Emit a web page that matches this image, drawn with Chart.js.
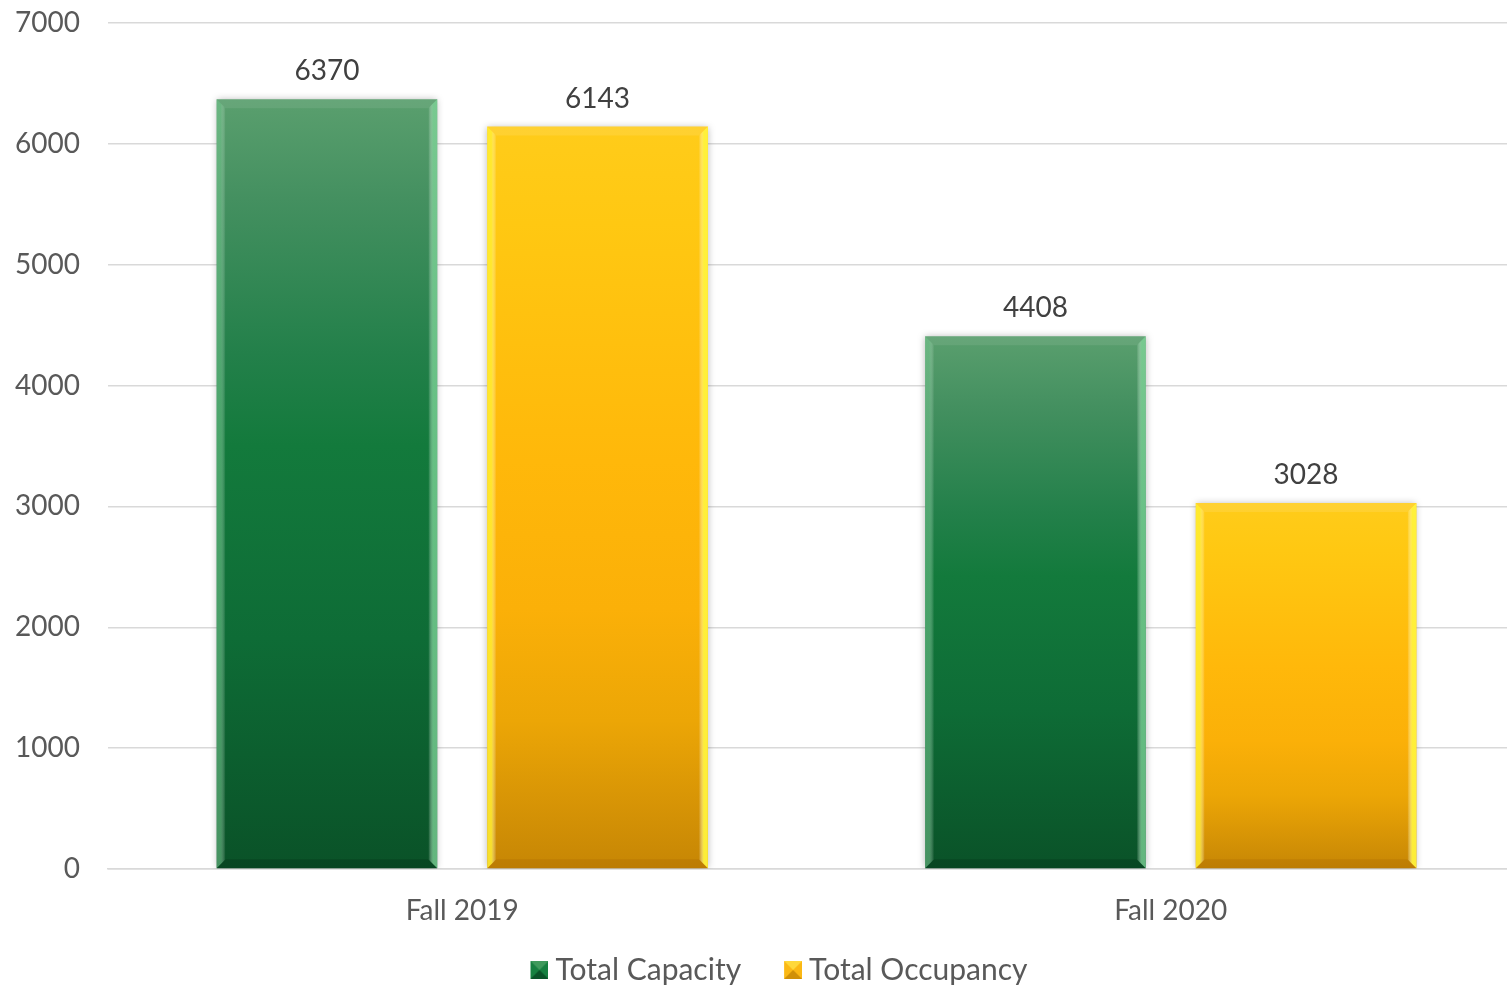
<!DOCTYPE html>
<html>
<head>
<meta charset="utf-8">
<script src="https://cdn.jsdelivr.net/npm/chart.js@4.4.1/dist/chart.umd.min.js"></script>
<style>
  html, body { margin: 0; padding: 0; background: #fff; overflow: hidden; }
  #wrap { width: 1564px; height: 995px; }
</style>
</head>
<body>
<div id="wrap"><canvas id="housingChart"></canvas></div>
<script>
// Housing capacity vs occupancy
const terms = ["Fall 2019", "Fall 2020"];
const capacity = [6370, 4408];
const occupancy = [6143, 3028];
const yTicks = [0, 1000, 2000, 3000, 4000, 5000, 6000, 7000];

const FONT = "Lato, 'Open Sans', sans-serif";

const greenStops = [[0, "#5a9f6e"], [0.13, "#449060"], [0.33, "#23804a"], [0.45, "#137a3c"], [0.7, "#0e6c36"], [1, "#0a5228"]];
const yellowStops = [[0, "#ffcc1a"], [0.13, "#ffc812"], [0.45, "#ffb80a"], [0.65, "#fbb008"], [0.8, "#eca606"], [1, "#c68605"]];

// bevel edge colours per series: [left, right, top, bottom]
const bevels = [
  ["rgba(120,200,145,0.55)", "rgba(130,215,155,0.75)", "rgba(255,255,255,0.08)", "rgba(0,0,0,0.14)"],
  ["rgba(255,238,50,0.85)", "rgba(255,242,60,0.95)", "rgba(255,255,255,0.10)", "rgba(120,60,0,0.12)"]
];

// vertical gradient from each bar's top down to its base
function barFill(stops) {
  return function(ctx) {
    const chart = ctx.chart;
    const yScale = chart.scales.y;
    if (!chart.chartArea || !yScale || ctx.raw == null) return stops[3][1];
    const top = yScale.getPixelForValue(ctx.raw);
    const base = yScale.getPixelForValue(0);
    const g = chart.ctx.createLinearGradient(0, top, 0, base);
    stops.forEach(s => g.addColorStop(s[0], s[1]));
    return g;
  };
}

// beveled square legend marker, sitting at the right end of a wider transparent canvas
const MARK_W = 43;
function bevelSwatch(light, mid, dark) {
  const c = document.createElement("canvas");
  c.width = MARK_W + 16; c.height = 18;
  const x = c.getContext("2d");
  x.translate(c.width - 18, 0);
  x.fillStyle = mid; x.fillRect(0, 0, 18, 18);
  x.fillStyle = light;
  x.beginPath(); x.moveTo(0, 0); x.lineTo(18, 0); x.lineTo(9, 9); x.closePath(); x.fill();
  x.fillStyle = dark;
  x.beginPath(); x.moveTo(0, 18); x.lineTo(18, 18); x.lineTo(9, 9); x.closePath(); x.fill();
  return c;
}

const swatches = [
  bevelSwatch("#3f9a5c", "#168040", "#0a5228"),
  bevelSwatch("#ffd83a", "#fbb814", "#d09008")
];

const bevelPlugin = {
  id: "bevel",
  beforeDatasetDraw(chart) {
    const c = chart.ctx;
    c.save();
    c.shadowColor = "rgba(0,0,0,0.28)";
    c.shadowBlur = 7;
    c.shadowOffsetX = 0;
    c.shadowOffsetY = 0;
  },
  afterDatasetDraw(chart) {
    chart.ctx.restore();
  },
  afterDatasetsDraw(chart) {
    const c = chart.ctx;
    const b = 9;
    chart.data.datasets.forEach((ds, di) => {
      const [lc, rc, tc, bc] = bevels[di];
      chart.getDatasetMeta(di).data.forEach((bar, i) => {
        const l = bar.x - bar.width / 2, r = bar.x + bar.width / 2;
        const t = bar.y, bt = bar.base;
        const poly = (pts, fill) => {
          c.beginPath();
          c.moveTo(pts[0][0], pts[0][1]);
          pts.slice(1).forEach(p => c.lineTo(p[0], p[1]));
          c.closePath();
          c.fillStyle = fill;
          c.fill();
        };
        const fade = (x0, x1, col) => {
          const g = c.createLinearGradient(x0, 0, x1, 0);
          g.addColorStop(0, col);
          g.addColorStop(0.45, col);
          g.addColorStop(1, "rgba(255,255,255,0)");
          return g;
        };
        c.save();
        poly([[l, t], [r, t], [r - b, t + b], [l + b, t + b]], tc);
        poly([[l, t], [l + b, t + b], [l + b, bt - b], [l, bt]], fade(l, l + b, lc));
        poly([[r, t], [r - b, t + b], [r - b, bt - b], [r, bt]], fade(r, r - b, rc));
        poly([[l, bt], [l + b, bt - b], [r - b, bt - b], [r, bt]], bc);
        // value label above the bar
        c.fillStyle = "#404040";
        c.font = "28px " + FONT;
        c.textAlign = "center";
        c.textBaseline = "bottom";
        c.fillText(String(ds.data[i]), bar.x, t - 14);
        c.restore();
      });
    });
  }
};

new Chart(document.getElementById("housingChart"), {
  type: "bar",
  data: {
    labels: terms,
    datasets: [
      {
        label: "Total Capacity",
        data: capacity,
        backgroundColor: barFill(greenStops),
        borderWidth: 0,
        categoryPercentage: 0.764,
        barPercentage: 0.815
      },
      {
        label: "Total Occupancy",
        data: occupancy,
        backgroundColor: barFill(yellowStops),
        borderWidth: 0,
        categoryPercentage: 0.764,
        barPercentage: 0.815
      }
    ]
  },
  options: {
    responsive: true,
    maintainAspectRatio: false,
    animation: false,
    layout: { padding: { top: 23, right: 39, bottom: 0, left: 0 } },
    scales: {
      x: {
        grid: { display: false },
        border: { display: true, color: "#d9d9d9", width: 1.5 },
        ticks: { color: "#595959", font: { family: FONT, size: 28 }, padding: 17 },
        afterFit: s => { s.height = 76; }
      },
      y: {
        min: 0,
        max: 7000,
        afterBuildTicks: s => { s.ticks = yTicks.map(v => ({ value: v })); },
        grid: { color: "#d9d9d9", lineWidth: 1.5, drawTicks: false },
        border: { display: false },
        ticks: {
          color: "#595959",
          font: { family: FONT, size: 28 },
          padding: 28,
          callback: v => String(v)
        },
        afterFit: s => {
          s.width = 108;
          s.paddingTop = 0;
          s.paddingBottom = 0;
        }
      }
    },
    plugins: {
      tooltip: { enabled: false },
      legend: {
        position: "bottom",
        labels: {
          color: "#595959",
          font: { family: FONT, size: 30 },
          usePointStyle: true,
          pointStyleWidth: MARK_W,
          padding: 10,
          generateLabels: chart => chart.data.datasets.map((ds, i) => ({
            text: ds.label,
            pointStyle: swatches[i],
            fontColor: "#595959",
            datasetIndex: i,
            hidden: false,
            lineWidth: 0
          }))
        }
      }
    }
  },
  plugins: [bevelPlugin]
});
</script>
</body>
</html>
